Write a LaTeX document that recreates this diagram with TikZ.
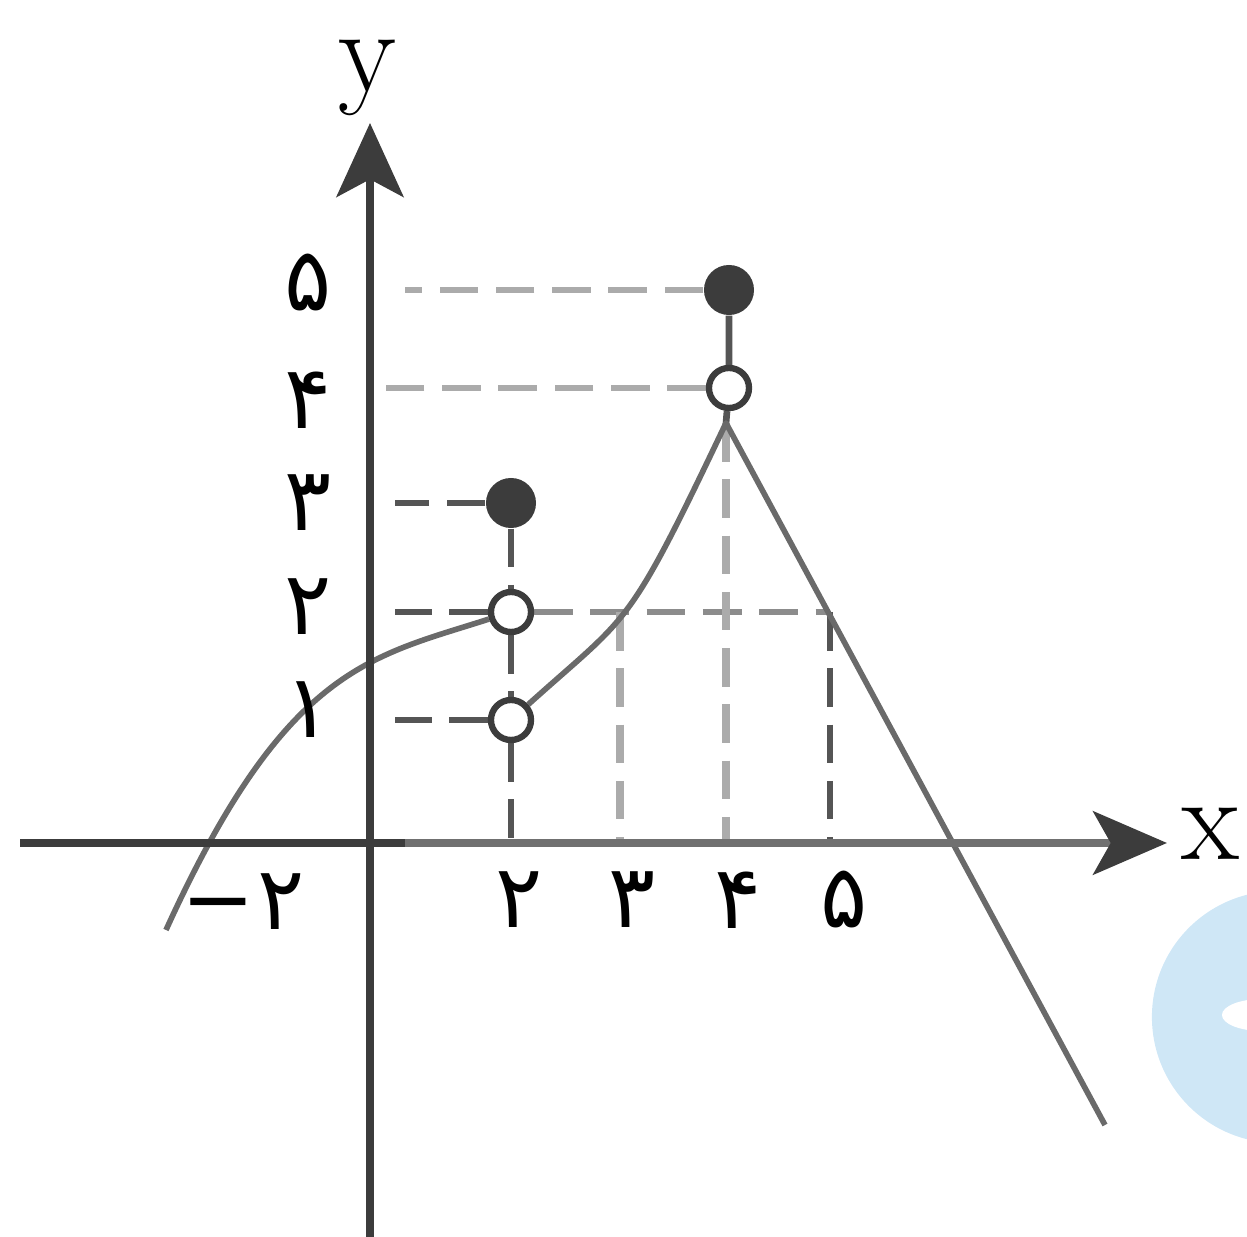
\documentclass[tikz,border=0pt]{standalone}
\usepackage{fontspec}
\newfontfamily\fafont[Script=Arabic]{DejaVu Sans}
\usetikzlibrary{arrows.meta,backgrounds,positioning}
\definecolor{axisDark}{HTML}{3C3C3C}
\definecolor{axisMid}{HTML}{707070}
\definecolor{curveGray}{HTML}{6A6A6A}
\definecolor{guideDark}{HTML}{555555}
\definecolor{guideMid}{HTML}{8C8C8C}
\definecolor{guideLight}{HTML}{ABABAB}
\definecolor{wmBlue}{HTML}{CFE7F6}

\begin{document}
\begin{tikzpicture}[x=0.01cm,y=-0.01cm,
  axisline/.style={draw=axisDark, line width=2.4pt},
  graphline/.style={draw=curveGray, line width=1.6pt, line join=round},
  guide/.style={line width=1.9pt, dash pattern=on 11pt off 5pt},
  dotfull/.style={circle, fill=axisDark, inner sep=0pt, minimum size=0.5cm},
  dotopen/.style={circle, draw=axisDark, fill=white, line width=1.8pt,
    inner sep=0pt, minimum size=0.4cm},
  numlabel/.style={font=\fafont\fontsize{25}{28}\selectfont},
  axislabel/.style={font=\fontsize{34}{40}\selectfont}]
  \useasboundingbox (0,0) rectangle (1247,1237);

  \coordinate (O) at (370,843);
  \coordinate (xl) at (20,843);
  \coordinate (xm) at (405,843);
  \coordinate (xr) at (1167,843);
  \coordinate (yb) at (370,1237);
  \coordinate (yt) at (370,123);
  \coordinate (peak) at (726,423);
  \coordinate (l2) at (620,612);
  \coordinate (r2) at (830,612);
  \coordinate (lstart) at (166,930);
  \coordinate (rend) at (1105,1125);

  \node[dotfull] (p3) at (511,503) {};
  \node[dotopen] (q2) at (511,612) {};
  \node[dotopen] (q1) at (511,720) {};
  \node[dotfull] (p5) at (729,290) {};
  \node[dotopen] (q4) at (729,388) {};

  \begin{scope}[on background layer]
    \fill[wmBlue] (1278,1017) circle (1.26cm);
    \fill[white] (1262,1015) ellipse (0.4cm and 0.16cm);

    \draw[guide, draw=guideLight] (p5) -- ([xshift=0.35cm]p5 -| O);
    \draw[guide, draw=guideLight] (q4) -- ([xshift=0.15cm]q4 -| O);
    \draw[guide, draw=guideDark] (p3) -- ([xshift=0.25cm]p3 -| O);
    \draw[guide, draw=guideDark] (q2) -- ([xshift=0.25cm]q2 -| O);
    \draw[guide, draw=guideDark] (q1) -- ([xshift=0.25cm]q1 -| O);
    \draw[guide, draw=guideMid] (q2) -- (r2);
    \draw[guide, draw=guideDark] (p3) -- (q2) -- (q1);
    \draw[guide, draw=guideDark] (q1) -- (q1 |- O);
    \draw[guide, draw=guideLight, line width=2.4pt] (l2) -- (l2 |- O);
    \draw[guide, draw=guideLight, line width=2.2pt] (peak) -- (peak |- O);
    \draw[guide, draw=guideDark] (r2) -- (r2 |- O);
    \draw[line width=1.9pt, draw=guideDark] (p5) -- (q4) -- (peak);

    \draw[graphline] (lstart) .. controls (286,666) and (371,657) .. (q2);
    \draw[graphline] (q1) .. controls (631,612) and (626,633) .. (peak) -- (rend);

    \draw[axisline, draw=axisMid,
      -{Stealth[length=21pt, width=18pt, inset=5pt, color=axisDark]}] (xl) -- (xr);
    \draw[axisline] (xl) -- (xm);
    \draw[axisline, -{Stealth[length=21pt, width=19pt, inset=5pt]}] (yb) -- (yt);
  \end{scope}

  \foreach \d/\yy in {۱/710,۲/607,۳/503,۴/400,۵/283}
    \node[numlabel] (ly\yy) at (308,\yy) {\d};
  \node[numlabel] (lxneg) at (243,902) {−\kern0.8pt ۲};
  \foreach \d/\xx in {۲/519,۳/632,۴/738,۵/844}
    \node[numlabel] (lx\xx) at (\xx,900) {\d};

  \node[axislabel] (xlab) at (1210,834) {x};
  \node[axislabel] (ylab) at (367,78) {y};
\end{tikzpicture}
\end{document}
